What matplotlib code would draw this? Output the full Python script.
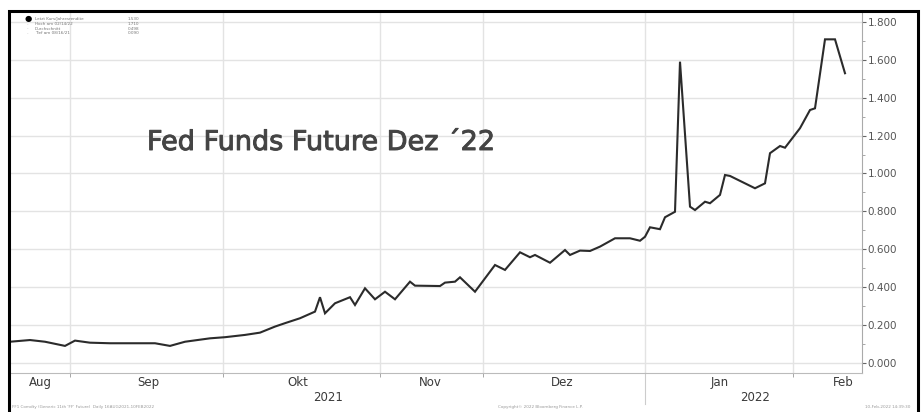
import matplotlib.pyplot as plt
import matplotlib.patheffects as pe
from matplotlib.patches import Rectangle

# session index (approx. one unit per calendar day) and contract price
session = [0, 4, 7, 11, 13, 16, 20, 29, 32, 35, 40, 43, 47, 50, 53, 55, 58, 61,
           62, 63, 65, 68, 69, 71, 73, 75, 77, 80, 81, 86, 87, 89, 90, 93, 97,
           99, 102, 104, 105, 108, 111, 112, 114, 116, 118, 121, 124, 126, 127,
           128, 130, 131, 133, 134, 136, 137, 139, 140, 142, 143, 144, 149, 151,
           152, 154, 155, 158, 160, 161, 163, 165, 167]
price = [0.112, 0.121, 0.112, 0.090, 0.118, 0.107, 0.104, 0.104, 0.090, 0.112,
         0.130, 0.136, 0.148, 0.160, 0.192, 0.210, 0.236, 0.271, 0.347, 0.262,
         0.315, 0.347, 0.306, 0.394, 0.336, 0.376, 0.336, 0.429, 0.408, 0.406,
         0.424, 0.429, 0.452, 0.376, 0.517, 0.491, 0.584, 0.558, 0.570, 0.529,
         0.596, 0.570, 0.593, 0.591, 0.614, 0.658, 0.658, 0.645, 0.666, 0.716,
         0.706, 0.769, 0.798, 1.590, 0.825, 0.807, 0.851, 0.843, 0.887, 0.992,
         0.987, 0.922, 0.948, 1.107, 1.145, 1.136, 1.239, 1.335, 1.344, 1.708,
         1.708, 1.529]

month_edges = [12, 42.6, 74, 94.6, 127, 156.6]
month_names = ["Aug", "Sep", "Okt", "Nov", "Dez", "Jan", "Feb"]
month_label_x = [6, 27.6, 57.6, 84, 110.4, 142, 166.6]
years = ["2021", "2022"]
year_x = [63.6, 149]
y_ticks = [0.0, 0.2, 0.4, 0.6, 0.8, 1.0, 1.2, 1.4, 1.6, 1.8]

legend_rows = [("Letzt Kurs/Jahresrendite", "1.530"),
               ("Hoch am 02/14/22", "1.710"),
               ("Durchschnitt", "0.498"),
               ("Tief am 08/16/21", "0.090")]

W, H = 923, 412
fig = plt.figure(figsize=(W / 100, H / 100), dpi=100)
fig.patch.set_facecolor("white")
ax = fig.add_axes([10 / W, 1 - 373 / H, (862 - 10) / W, (373 - 13) / H])

ax.plot(session, price, color="#2b2b2b", lw=1.5, solid_joinstyle="miter")
ax.set_xlim(0, 170.4)
ax.set_ylim(-0.053, 1.847)

# grid
ax.set_yticks(y_ticks)
ax.set_yticks([v + 0.1 for v in y_ticks[:-1]], minor=True)
ax.set_xticks(month_edges, minor=True)
ax.set_xticks(month_label_x)
ax.set_xticklabels(month_names, family=["Liberation Sans Narrow", "DejaVu Sans"],
                   fontsize=8.5, color="#3a3a3a")
ax.grid(True, which="major", axis="y", color="#e3e3e3", lw=1.0)
ax.grid(True, which="minor", axis="x", color="#e3e3e3", lw=1.0)
ax.set_axisbelow(True)

ax.yaxis.tick_right()
ax.set_yticklabels([f"{v:.3f}" for v in y_ticks], fontsize=7.5, color="#555555")
ax.tick_params(axis="y", which="major", direction="out", length=3, width=0.8,
               color="#666666", pad=1)
ax.tick_params(axis="y", which="minor", direction="out", length=2, width=0.6,
               color="#999999")
ax.tick_params(axis="x", which="major", length=0, pad=2)
ax.tick_params(axis="x", which="minor", direction="out", length=3, color="#999999")

for s in ["left", "top"]:
    ax.spines[s].set_visible(False)
ax.spines["right"].set_color("#aaaaaa")
ax.spines["bottom"].set_color("#bbbbbb")

# year labels and separator
tr = ax.get_xaxis_transform()
for yr, xv in zip(years, year_x):
    ax.text(xv, -0.069, yr, transform=tr, ha="center", va="center", fontsize=8.5,
            color="#3a3a3a", family=["Liberation Sans Narrow", "DejaVu Sans"])
ax.plot([month_edges[4], month_edges[4]], [0, -0.085], transform=tr,
        color="#cccccc", lw=0.8, clip_on=False)

# title inside the plot
fig.text(147 / W, 1 - 143 / H, "Fed Funds Future Dez \u00b422", fontsize=19.5,
         color="#444444", family="DejaVu Sans", va="center", ha="left",
         path_effects=[pe.withStroke(linewidth=0.7, foreground="#444444")])

# legend block top left
fig.text(28 / W, 1 - 18.5 / H, "\u25cf", fontsize=6, color="black",
         ha="center", va="center")
for i, (lab, val) in enumerate(legend_rows):
    yy = 1 - (19.3 + 4.7 * i) / H
    if i > 0:
        fig.text(28 / W, yy, "-", fontsize=3, color="#aaaaaa", ha="center", va="center")
    fig.text(35 / W, yy, lab, fontsize=3, color="#777777", va="center")
    fig.text(128 / W, yy, val, fontsize=3, color="#777777", va="center")

# footer
fig.text(12 / W, 1 - 407 / H, "FF1 Comdty (Generic 11th 'FF' Future)  Daily 16AUG2021-10FEB2022",
         fontsize=3, color="#999999", va="center")
fig.text(540 / W, 1 - 407 / H, "Copyright\u00a9 2022 Bloomberg Finance L.P.",
         fontsize=3, color="#999999", va="center", ha="center")
fig.text(910 / W, 1 - 407 / H, "10-Feb-2022 14:39:30",
         fontsize=3, color="#999999", va="center", ha="right")

# outer black frame
fig.patches.append(Rectangle((9 / W, -0.05), (918 - 9) / W, 1.05 - 11 / H,
                             transform=fig.transFigure, fill=False,
                             edgecolor="black", lw=2.2))

fig.savefig("out.png", dpi=100)
